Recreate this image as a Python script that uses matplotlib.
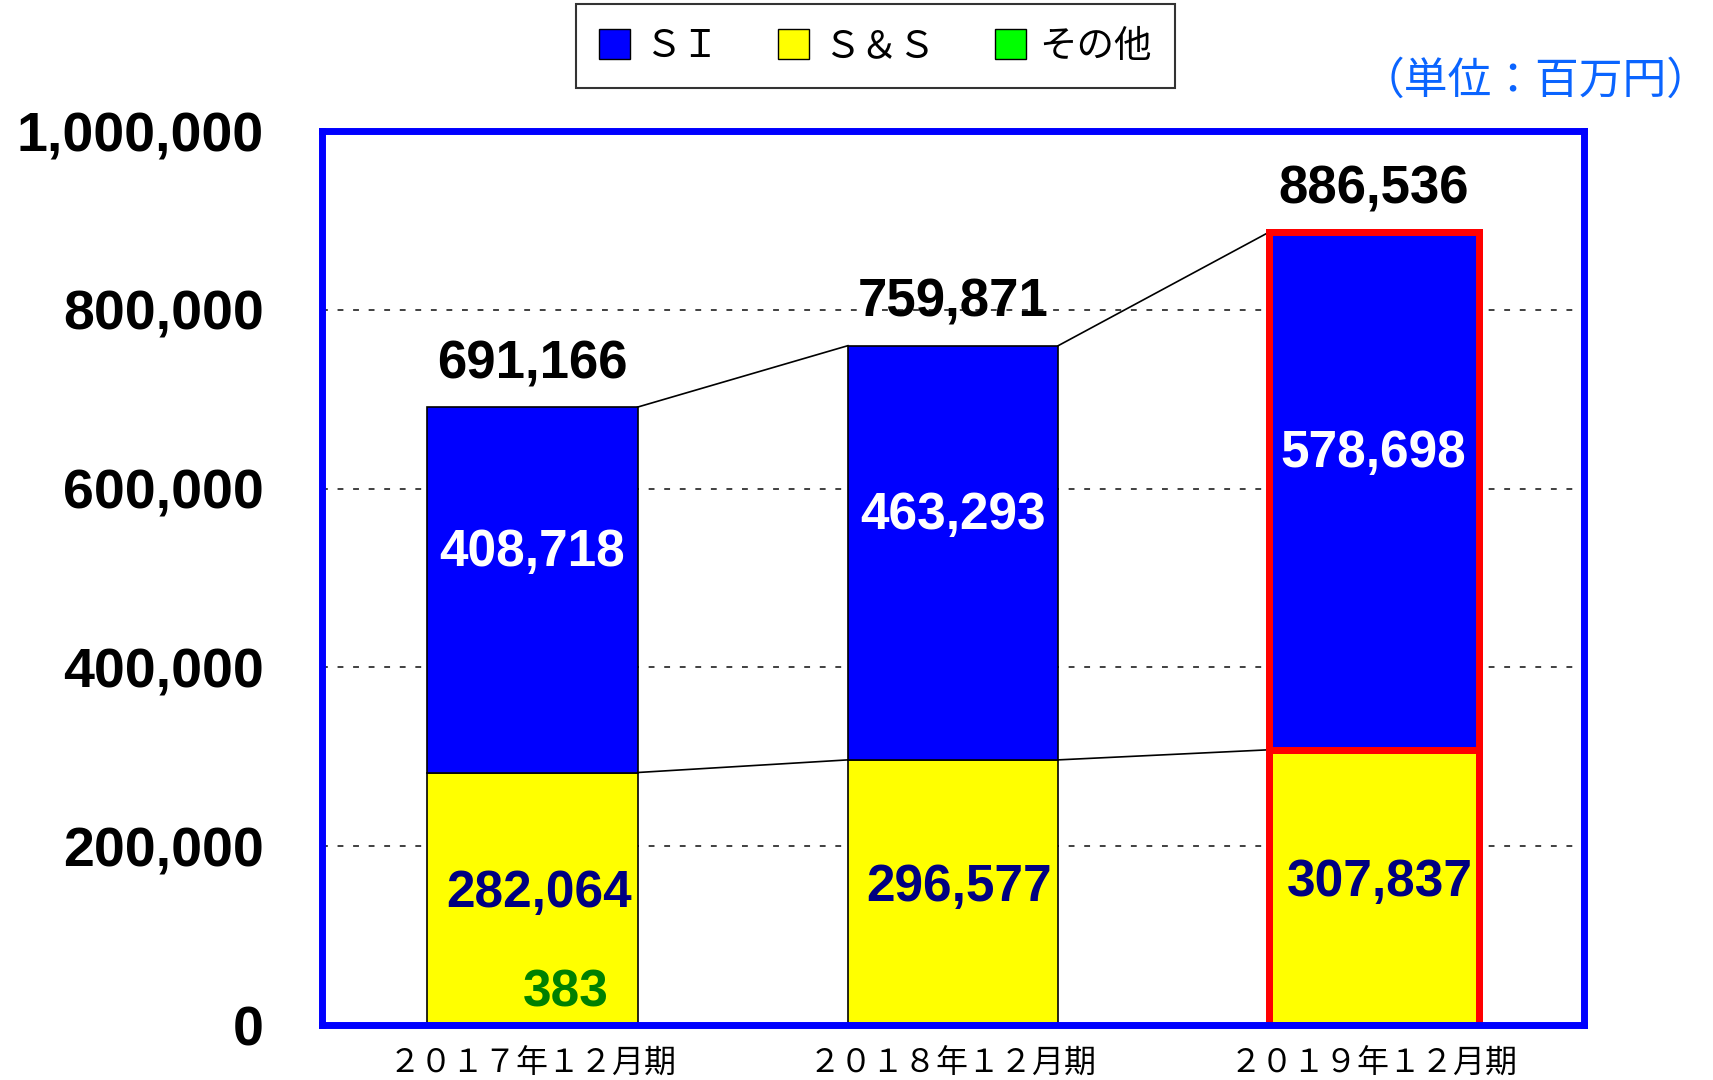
import matplotlib
matplotlib.use("Agg")
import matplotlib.pyplot as plt
from matplotlib.patches import Patch

periods = ['２０１７年１２月期', '２０１８年１２月期', '２０１９年１２月期']
si = [408718, 463293, 578698]
ss = [282064, 296577, 307837]
other = [383, 1, 1]
totals = [691166, 759871, 886536]
yticks = [0, 200000, 400000, 600000, 800000, 1000000]

num_font = 'Liberation Sans'
jp_font = ['Noto Sans CJK JP', 'DejaVu Sans']

fig = plt.figure(figsize=(17.13, 10.8), dpi=100)
ax = fig.add_axes([0.188, 0.0509, 0.7367, 0.8278])

x = list(range(len(periods)))
w = 0.5
edge = ['black', 'black', 'red']
lw = [1.2, 1.2, 5]

ss_base = other
si_base = [o + s for o, s in zip(other, ss)]
ax.bar(x, other, w, color='#00FF00', edgecolor=edge, linewidth=lw, zorder=3)
ax.bar(x, ss, w, bottom=ss_base, color='#FFFF00', edgecolor=edge, linewidth=lw, zorder=3)
ax.bar(x, si, w, bottom=si_base, color='#0000FF', edgecolor=edge, linewidth=lw, zorder=3)
# redraw red box on top so it isn't covered
for i in range(len(x)):
    if edge[i] == 'red':
        ax.bar(x[i], totals[i], w, fill=False, edgecolor='red', linewidth=5, zorder=4)
        ax.plot([x[i] - w / 2, x[i] + w / 2], [si_base[i], si_base[i]], color='red', lw=5, zorder=4)

# connector lines
for i in range(len(x) - 1):
    ax.plot([x[i] + w / 2, x[i + 1] - w / 2], [totals[i], totals[i + 1]], color='black', lw=1.2, zorder=2)
    ax.plot([x[i] + w / 2, x[i + 1] - w / 2], [si_base[i], si_base[i + 1]], color='black', lw=1.2, zorder=2)

# labels
for i in range(len(x)):
    ax.annotate(f'{totals[i]:,}', (x[i], totals[i]), xytext=(0, 31), textcoords='offset points',
                ha='center', va='center', fontsize=38, fontweight='bold', family=num_font, color='black', zorder=5)
    ax.text(x[i], si_base[i] + si[i] / 2 + 42000, f'{si[i]:,}', ha='center', va='center',
            fontsize=37, fontweight='bold', family=num_font, color='white', zorder=5)
    ax.text(x[i] + 0.015, ss[i] / 2 + 6000, f'{ss[i]:,}', ha='center', va='center',
            fontsize=37, fontweight='bold', family=num_font, color='#000080', zorder=5)
ax.text(x[0] + 0.08, 36000, f'{other[0]:,}', ha='center', va='center',
        fontsize=37, fontweight='bold', family=num_font, color='#008000', zorder=5)

ax.set_xlim(-0.5, 2.5)
ax.set_ylim(0, 1000000)
ax.set_yticks(yticks)
ax.set_yticklabels([f'{v:,}' for v in yticks], fontsize=40, fontweight='bold', family=num_font)
ax.set_xticks(x)
ax.set_xticklabels(periods, fontsize=23, family=jp_font)
ax.tick_params(axis='y', length=0, pad=42)
ax.tick_params(axis='x', length=0, pad=16)
for g in yticks[1:-1]:
    ax.axhline(g, color='#404040', lw=1.4, ls=(0, (3, 5)), zorder=1)
for s in ax.spines.values():
    s.set_color('#0000FF')
    s.set_linewidth(5)
    s.set_zorder(6)

handles = [Patch(facecolor='#0000FF', edgecolor='black', label='ＳＩ'),
           Patch(facecolor='#FFFF00', edgecolor='black', label='Ｓ＆Ｓ'),
           Patch(facecolor='#00FF00', edgecolor='black', label='その他')]
leg = fig.legend(handles=handles, loc='center', bbox_to_anchor=(0.511, 0.957), ncol=3,
                 prop={'family': jp_font, 'size': 27}, frameon=True, fancybox=False,
                 edgecolor='black', handlelength=0.83, handleheight=0.88, handletextpad=0.37,
                 columnspacing=1.58, borderpad=0.6)
leg.get_frame().set_linewidth(1.5)

fig.text(0.9985, 0.925, '（単位：百万円）', ha='right', va='center', fontsize=31.5,
         family=jp_font, color='#0A64FF')

plt.savefig('out.png', dpi=100)
plt.close()
